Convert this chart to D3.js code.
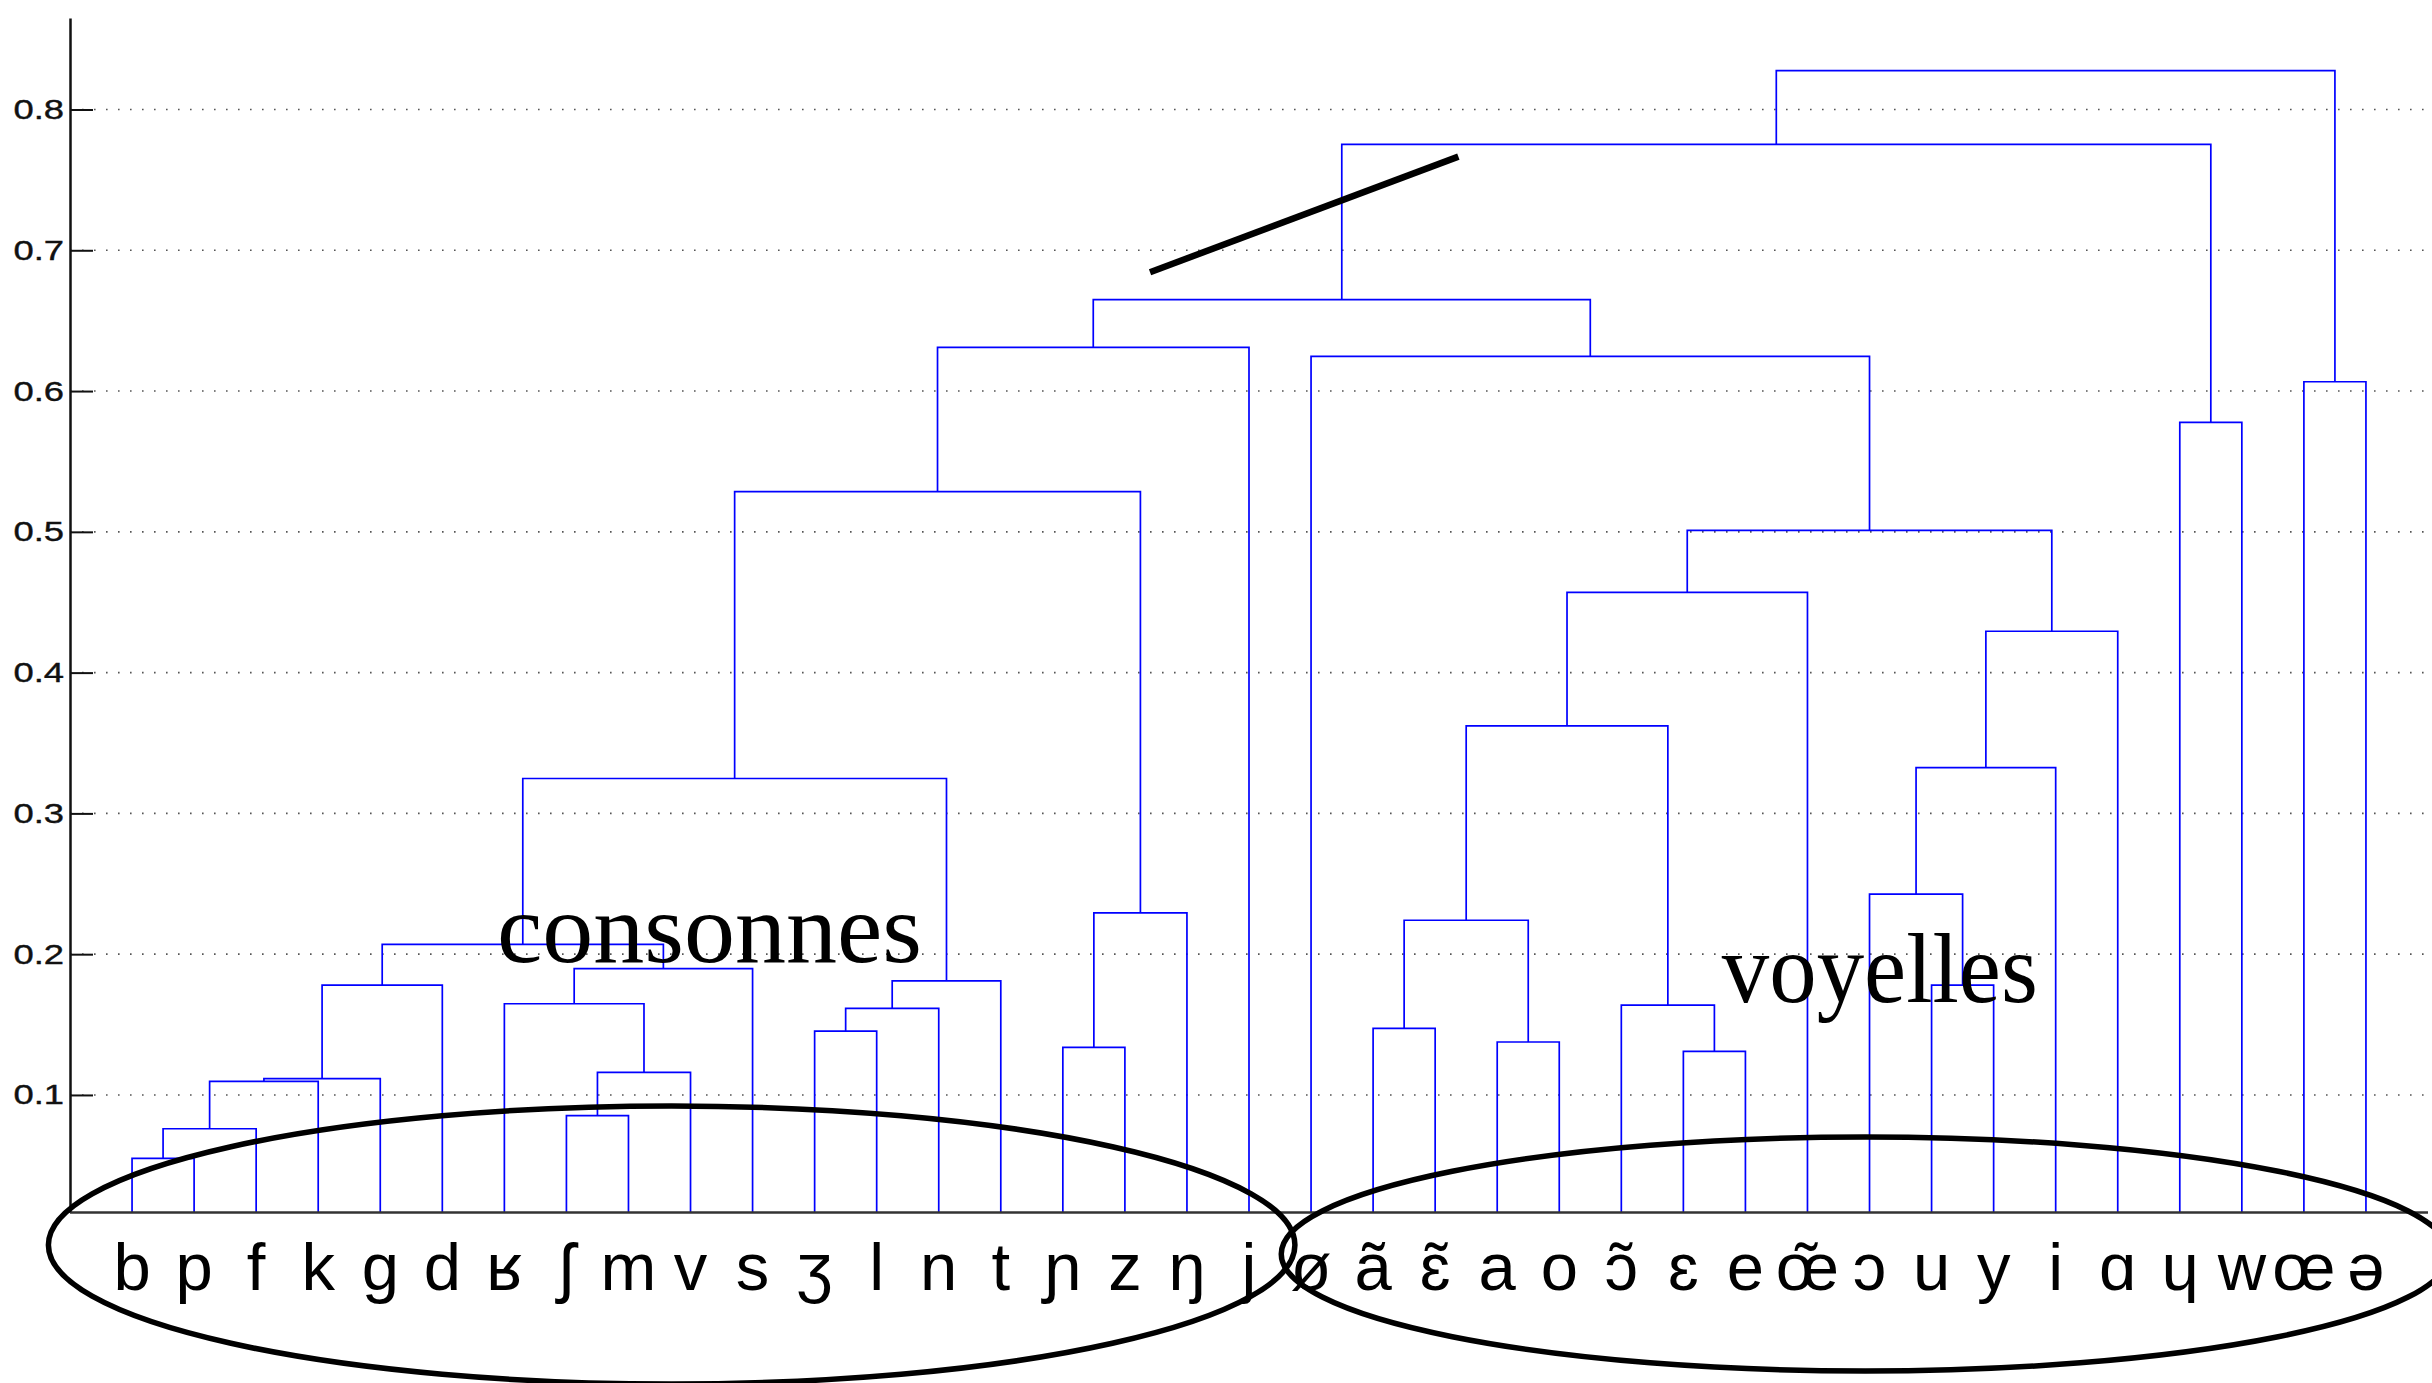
<!DOCTYPE html>
<html>
<head>
<meta charset="utf-8">
<script src="https://cdn.jsdelivr.net/npm/d3@7"></script>
<style>
  html, body { margin: 0; padding: 0; background: #fff; }
  svg { display: block; }
</style>
</head>
<body>
<svg id="chart" width="2432" height="1383"></svg>
<script>
// Leaf order of the dendrogram (French phonemes)
const leafLabels = [
  "b","p","f","k","g","d","ʁ","ʃ","m","v","s","ʒ","l","n","t","ɲ","z","ŋ","j",
  "ø","ã","ɛ̃","a","o","ɔ̃","ɛ","e","œ̃","ɔ","u","y","i","ɑ","ɥ","w","œ","ə"
];

// Linkage table: [child A, child B, merge height]
// leaves are 0–36, each row creates a new cluster numbered 37, 38, ...
const linkage = [
  [0, 1, 0.0550],   // 37  b–p
  [37, 2, 0.0760],  // 38  +f
  [7, 8, 0.0853],   // 39  ʃ–m
  [38, 3, 0.1097],  // 40  +k
  [40, 4, 0.1116],  // 41  +g
  [39, 9, 0.1160],  // 42  +v
  [25, 26, 0.1310], // 43  ɛ–e
  [15, 16, 0.1338], // 44  ɲ–z
  [22, 23, 0.1376], // 45  a–o
  [11, 12, 0.1454], // 46  ʒ–l
  [20, 21, 0.1473], // 47  ã–ɛ̃
  [46, 13, 0.1615], // 48  +n
  [24, 43, 0.1638], // 49  ɔ̃+
  [6, 42, 0.1648],  // 50  ʁ+
  [41, 5, 0.1780],  // 51  +d
  [29, 30, 0.1780], // 52  u–y
  [48, 14, 0.1811], // 53  +t
  [50, 10, 0.1898], // 54  +s
  [51, 54, 0.2069], // 55
  [47, 45, 0.2241], // 56
  [44, 17, 0.2293], // 57  +ŋ
  [28, 52, 0.2426], // 58  ɔ+
  [55, 53, 0.3248], // 59
  [58, 31, 0.3325], // 60  +i
  [56, 49, 0.3622], // 61
  [60, 32, 0.4294], // 62  +ɑ
  [61, 27, 0.4570], // 63  +œ̃
  [63, 62, 0.5010], // 64
  [59, 57, 0.5286], // 65
  [33, 34, 0.5778], // 66  ɥ–w
  [35, 36, 0.6066], // 67  œ–ə
  [19, 64, 0.6247], // 68  ø+
  [65, 18, 0.6311], // 69  +j
  [69, 68, 0.6649], // 70
  [70, 66, 0.7753], // 71
  [71, 67, 0.8276]  // 72
];

const yTicks = [0.1, 0.2, 0.3, 0.4, 0.5, 0.6, 0.7, 0.8];
const groupNames = ["consonnes", "voyelles"];

const svg = d3.select("#chart");
const width = 2432;

const x = d3.scaleLinear().domain([0, 38]).range([70, 2428]);
const y = d3.scaleLinear().domain([0.0165, 0.865]).range([1212.5, 18]);
const yBase = y.domain()[0];

// dotted horizontal grid
svg.append("g")
  .selectAll("line")
  .data(yTicks)
  .join("line")
  .attr("x1", x(0)).attr("x2", width)
  .attr("y1", d => y(d)).attr("y2", d => y(d))
  .attr("stroke", "#555")
  .attr("stroke-width", 1.6)
  .attr("stroke-dasharray", "1.6 10.4");

// dendrogram links
const nodes = leafLabels.map((d, i) => ({ pos: i + 1, h: yBase }));
const links = linkage.map(([a, b, h]) => {
  const A = nodes[a], B = nodes[b];
  nodes.push({ pos: (A.pos + B.pos) / 2, h });
  return { A, B, h };
});

svg.append("g")
  .attr("fill", "none")
  .attr("stroke", "#0000ff")
  .attr("stroke-width", 1.7)
  .selectAll("path")
  .data(links)
  .join("path")
  .attr("d", d => `M${x(d.A.pos)},${y(d.A.h)}V${y(d.h)}H${x(d.B.pos)}V${y(d.B.h)}`);

// y axis with inward ticks
const yAxis = d3.axisLeft(y)
  .tickValues(yTicks)
  .tickFormat(d3.format(".1f"))
  .tickSizeInner(-23)
  .tickSizeOuter(0)
  .tickPadding(0);

const gy = svg.append("g")
  .attr("transform", `translate(${x(0)},0)`)
  .call(yAxis);
gy.select(".domain").attr("stroke", "#111").attr("stroke-width", 2.5);
gy.selectAll(".tick line").attr("stroke", "#111").attr("stroke-width", 2);
gy.selectAll(".tick text")
  .attr("font-family", "'Liberation Sans', Arial, Helvetica, sans-serif")
  .attr("font-size", 28)
  .attr("fill", "#111")
  .attr("stroke", "#111")
  .attr("stroke-width", 0.4)
  .attr("x", null)
  .attr("transform", "translate(-6,0) scale(1.3,1)");

// x axis baseline
svg.append("line")
  .attr("x1", x(0)).attr("x2", x(38))
  .attr("y1", y(yBase)).attr("y2", y(yBase))
  .attr("stroke", "#333")
  .attr("stroke-width", 2.5);

// leaf labels
svg.append("g")
  .attr("font-family", "'Liberation Sans', Arial, Helvetica, 'DejaVu Sans', sans-serif")
  .attr("font-size", 67)
  .attr("text-anchor", "middle")
  .attr("fill", "#000")
  .selectAll("text")
  .data(leafLabels)
  .join("text")
  .attr("x", (d, i) => x(i + 1))
  .attr("y", y(yBase) + 77)
  .text(d => d);

// hand-drawn annotations: group rings, group names and the cut stroke
const base = y(yBase);
const rings = [
  { from: -0.348, to: 19.74, dy: 32.5, ry: 139 },
  { from: 19.52, to: 38.34, dy: 41.5, ry: 117 }
];
svg.append("g")
  .attr("fill", "none")
  .attr("stroke", "#000")
  .attr("stroke-width", 5.5)
  .selectAll("ellipse")
  .data(rings)
  .join("ellipse")
  .attr("cx", d => (x(d.from) + x(d.to)) / 2)
  .attr("rx", d => (x(d.to) - x(d.from)) / 2)
  .attr("cy", d => base + d.dy)
  .attr("ry", d => d.ry);

const nameSpots = [
  { pos: 6.88, h: 0.1947, span: 425 },
  { pos: 26.62, h: 0.1662, span: 316 }
];
svg.append("g")
  .attr("font-family", "'Liberation Serif', 'Times New Roman', Times, serif")
  .attr("font-size", 100)
  .attr("fill", "#000")
  .selectAll("text")
  .data(groupNames)
  .join("text")
  .attr("x", (d, i) => x(nameSpots[i].pos))
  .attr("y", (d, i) => y(nameSpots[i].h))
  .attr("textLength", (d, i) => nameSpots[i].span)
  .attr("lengthAdjust", "spacingAndGlyphs")
  .text(d => d);

svg.append("line")
  .attr("x1", x(17.405)).attr("y1", y(0.6844))
  .attr("x2", x(22.374)).attr("y2", y(0.7665))
  .attr("stroke", "#000")
  .attr("stroke-width", 6.5);
</script>
</body>
</html>
